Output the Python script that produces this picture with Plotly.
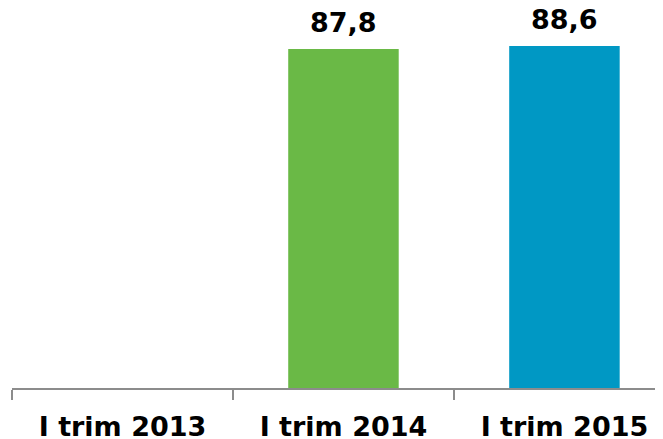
import plotly.graph_objects as go

# =====================================================
# DATA
# =====================================================

categories = ["I trim 2013", "I trim 2014", "I trim 2015"]
values = [None, 87.8, 88.6]
bar_colors = ["#6ab946", "#6ab946", "#0098c4"]
labels = ["" if v is None else f"{v:.1f}".replace(".", ",") for v in values]

FONT = "DejaVu Sans"

# the page body adds an 8px offset, margins below take it into account
PAGE_OFFSET = 8

# =====================================================
# BAR CHART
# =====================================================

fig = go.Figure()

fig.add_trace(
    go.Bar(
        x=categories,
        y=values,
        marker=dict(color=bar_colors, line=dict(width=0)),
        width=0.5,
        hoverinfo="skip",
    )
)

for cat, v, lab in zip(categories, values, labels):
    if v is None:
        continue
    fig.add_annotation(
        x=cat,
        y=v,
        text=lab,
        showarrow=False,
        yanchor="bottom",
        yshift=9,
        font=dict(family=FONT, size=27, color="black", weight="bold"),
    )

fig.update_layout(
    width=663,
    height=439,
    margin=dict(
        l=12 - PAGE_OFFSET,
        r=PAGE_OFFSET,
        t=0,
        b=51 + PAGE_OFFSET,
    ),
    plot_bgcolor="white",
    paper_bgcolor="white",
    showlegend=False,
    xaxis=dict(
        range=[-0.5, 2.446],
        showline=True,
        linecolor="#8c8c8c",
        linewidth=2,
        ticks="outside",
        tickson="boundaries",
        ticklen=10,
        tickwidth=2,
        tickcolor="#8c8c8c",
        ticklabelstandoff=14,
        tickfont=dict(family=FONT, size=27, color="black", weight="bold"),
        showgrid=False,
        zeroline=False,
    ),
    yaxis=dict(
        range=[0, 100.5 - 8 / 3.86],
        visible=False,
        showgrid=False,
        zeroline=False,
    ),
)

fig.write_html("out.html")
